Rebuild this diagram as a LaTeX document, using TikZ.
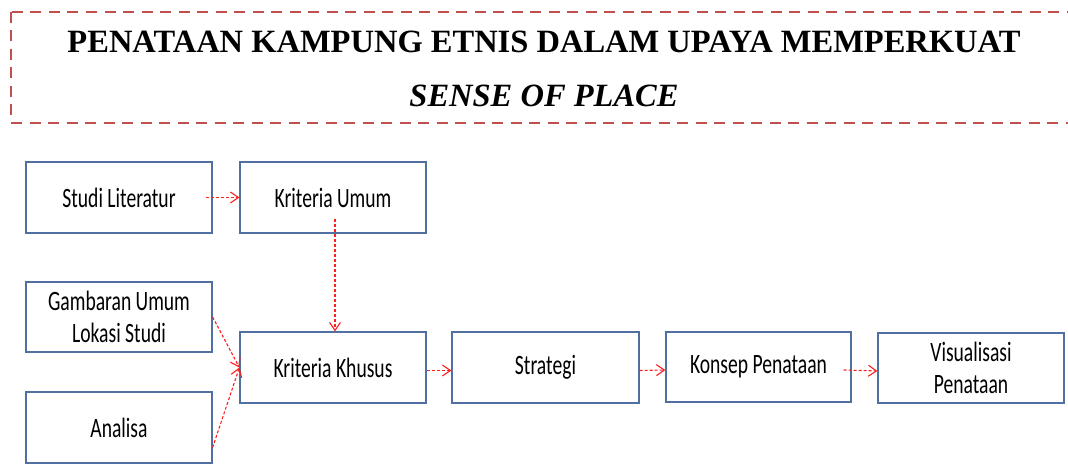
\documentclass[tikz,border=0pt]{standalone}
\usepackage{fontspec}
\usetikzlibrary{arrows.meta}
\newfontfamily\boxfont[FakeStretch=0.70]{Carlito}
\newfontfamily\titlefont{Liberation Serif}
\definecolor{titlered}{RGB}{192,80,77}
\definecolor{boxblue}{RGB}{80,112,162}
\definecolor{arrred}{RGB}{255,30,30}
\tikzset{
  stepbox/.style={draw=boxblue, line width=1.3pt, inner sep=0pt, minimum width=186pt, minimum height=71pt, align=center, font=\boxfont\fontsize{28}{32}\selectfont},
  flow/.style={draw=arrred, line width=1.1pt, dash pattern=on 3pt off 2pt, -{Straight Barb[length=8pt,width=11pt,line width=1.1pt]}},
  titletext/.style={anchor=base, inner sep=0pt, font=\titlefont\bfseries\fontsize{32.5}{36}\selectfont}
}
\begin{document}
\begin{tikzpicture}[x=1pt,y=-1pt]
\clip (0,0) rectangle (1068,470);
\fill[white] (0,0) rectangle (1068,470);
% title frame
\draw[titlered, line width=2.5pt, dash pattern=on 11pt off 7.5pt] (11,12) rectangle (1090,123);
\node[titletext] (t1) at (544,53) {PENATAAN KAMPUNG ETNIS DALAM UPAYA MEMPERKUAT};
\node[titletext, font=\titlefont\bfseries\itshape\fontsize{32.5}{36}\selectfont] (t2) at (544,107) {SENSE OF PLACE};
% boxes
\node[stepbox] (sl) at (119,197.5) {Studi Literatur};
\node[stepbox] (ku) at (333,197.5) {Kriteria Umum};
\node[stepbox, minimum height=70pt] (gu) at (119,317) {Gambaran Umum\\Lokasi Studi};
\node[stepbox] (an) at (119,427.5) {Analisa};
\node[stepbox] (kk) at (333,367.5) {Kriteria Khusus};
\node[stepbox, minimum width=187pt] (st) at (545.5,367.5) {Strategi};
\node[stepbox, minimum width=185pt, minimum height=70pt] (kp) at (758.5,367) {Konsep Penataan};
\node[stepbox, minimum height=70pt] (vp) at (971,368) {Visualisasi\\Penataan};
% connectors
\draw[flow] ([xshift=-7pt]sl.east) -- (ku.west);
\draw[flow] ([xshift=2pt,yshift=15pt]ku.south) -- ([xshift=2pt]kk.north);
\draw[flow] (gu.east) -- (kk.west);
\draw[flow] ([yshift=-20pt]an.east) -- (kk.west);
\draw[flow] ([yshift=-3pt]kk.east) -- ([yshift=-3pt]st.west);
\draw[flow] ([yshift=-3pt]st.east) -- ([yshift=-3pt]kp.west);
\draw[flow] ([xshift=-8pt,yshift=-3pt]kp.east) -- ([yshift=-3pt]vp.west);
\end{tikzpicture}
\end{document}
